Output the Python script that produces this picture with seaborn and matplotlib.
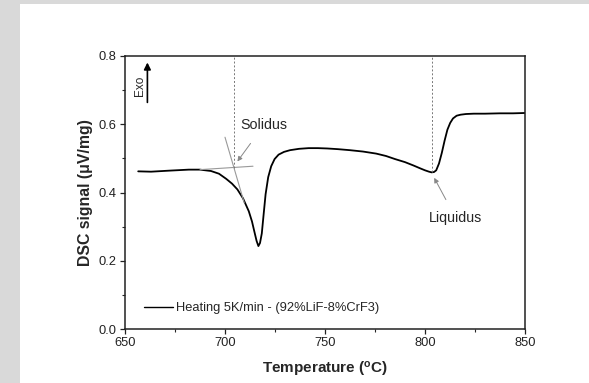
import matplotlib
matplotlib.use("Agg")
import matplotlib.pyplot as plt
import seaborn as sns
import pandas as pd
from matplotlib.patches import Rectangle
from matplotlib.ticker import MultipleLocator

# ---- data ----
temperature = [656.6, 663.0, 672.0, 681.9, 687.5, 693.0, 697.0, 700.6, 703.5, 706.2,
               709.0, 711.9, 713.5, 714.7, 715.8, 716.7, 717.5, 718.4, 719.3, 720.3,
               721.6, 723.1, 724.8, 726.8, 729.5, 732.5, 737.0, 741.8, 746.5, 751.2,
               756.5, 762.5, 769.0, 775.6, 780.5, 785.0, 790.0, 794.3, 797.5, 800.0,
               802.0, 803.3, 804.5, 805.6, 807.0, 808.4, 809.8, 811.2, 812.6, 814.0,
               815.8, 817.8, 820.5, 824.4, 830.0, 837.4, 844.0, 850.0]
dsc_signal = [0.462, 0.461, 0.464, 0.467, 0.467, 0.463, 0.455, 0.440, 0.426, 0.409,
              0.383, 0.345, 0.315, 0.285, 0.258, 0.243, 0.252, 0.280, 0.335, 0.395,
              0.445, 0.477, 0.498, 0.511, 0.519, 0.524, 0.528, 0.530, 0.530, 0.529,
              0.527, 0.524, 0.520, 0.514, 0.507, 0.498, 0.489, 0.479, 0.471, 0.465,
              0.461, 0.459, 0.460, 0.465, 0.485, 0.516, 0.552, 0.584, 0.604, 0.617,
              0.625, 0.628, 0.630, 0.631, 0.631, 0.632, 0.632, 0.633]

legend_label = "Heating 5K/min - (92%LiF-8%CrF3)"
solidus_temp = 704.7
liquidus_temp = 803.3
baseline_x = [687.5, 714.0]
baseline_y = [0.467, 0.477]
tangent_x = [700.0, 709.6]
tangent_y = [0.562, 0.370]

x_ticks = [650, 700, 750, 800, 850]
y_ticks = [0.0, 0.2, 0.4, 0.6, 0.8]

df = pd.DataFrame({"Temperature": temperature, "DSC": dsc_signal})

sns.set_style("ticks")
plt.rcParams["font.family"] = ["Liberation Sans", "DejaVu Sans"]
plt.rcParams["mathtext.fontset"] = "custom"
plt.rcParams["mathtext.rm"] = "Liberation Sans"
plt.rcParams["mathtext.bf"] = "Liberation Sans:bold"

fig = plt.figure(figsize=(5.89, 3.83), dpi=100)
fig.patches.append(Rectangle((0, 0), 1, 1, transform=fig.transFigure,
                             facecolor="#d9d9d9", edgecolor="none", zorder=-10))
fig.patches.append(Rectangle((20 / 589, 0), 1, 1 - 4 / 383, transform=fig.transFigure,
                             facecolor="white", edgecolor="none", zorder=-9))
fig.patch.set_alpha(0)

ax = fig.add_axes([125 / 589, 1 - 329 / 383, 400 / 589, 273 / 383])
ax.set_facecolor("white")

sns.lineplot(data=df, x="Temperature", y="DSC", ax=ax, color="black",
             linewidth=1.3, label=legend_label, sort=False)

# construction lines
ax.plot(baseline_x, baseline_y, color="#999999", linewidth=0.8)
ax.plot(tangent_x, tangent_y, color="#999999", linewidth=0.8)
ax.plot([solidus_temp, solidus_temp], [0.472, 0.8], color="#777777",
        linewidth=0.7, linestyle=(0, (2, 2)))
ax.plot([liquidus_temp, liquidus_temp], [0.459, 0.8], color="#777777",
        linewidth=0.7, linestyle=(0, (2, 2)))

# annotations
ax.annotate("Solidus", xy=(706.2, 0.491), xytext=(719.4, 0.597),
            ha="center", va="center", fontsize=10.3,
            arrowprops=dict(arrowstyle="-|>", color="#888888", lw=0.7,
                            shrinkA=7, shrinkB=0, mutation_scale=7))
ax.annotate("Liquidus", xy=(804.6, 0.443), xytext=(815.5, 0.324),
            ha="center", va="center", fontsize=10.3,
            arrowprops=dict(arrowstyle="-|>", color="#888888", lw=0.7,
                            shrinkA=7, shrinkB=0, mutation_scale=7))
ax.annotate("", xy=(661.2, 0.781), xytext=(661.2, 0.664),
            arrowprops=dict(arrowstyle="-|>", color="black", lw=1.2,
                            shrinkA=0, shrinkB=0, mutation_scale=10))
ax.text(657.3, 0.712, "Exo", rotation=90, ha="center", va="center", fontsize=8.5)

ax.set_xlim(650, 850)
ax.set_ylim(0.0, 0.8)
ax.set_xticks(x_ticks)
ax.set_yticks(y_ticks)
ax.set_yticklabels([f"{v:.1f}" for v in y_ticks])
ax.xaxis.set_minor_locator(MultipleLocator(25))
ax.yaxis.set_minor_locator(MultipleLocator(0.1))
ax.tick_params(which="major", direction="out", length=3.5, width=0.9,
               labelsize=9.3, colors="#222222", pad=2.5)
ax.tick_params(which="minor", direction="out", length=2, width=0.8)
for s in ax.spines.values():
    s.set_visible(True)
    s.set_linewidth(1.1)
    s.set_color("#222222")

ax.set_xlabel(r"Temperature ($\mathbf{^o}$C)", fontsize=11, fontweight="bold", labelpad=8)
ax.set_ylabel("DSC signal (μV/mg)", fontsize=11.4, fontweight="bold", labelpad=4)

leg = ax.legend(loc="lower left", frameon=False, fontsize=9.3, handlelength=2.2,
                handletextpad=0.25, bbox_to_anchor=(0.035, 0.035), borderaxespad=0)
for line in leg.get_lines():
    line.set_linewidth(1.0)

fig.savefig("out.png", dpi=100)
